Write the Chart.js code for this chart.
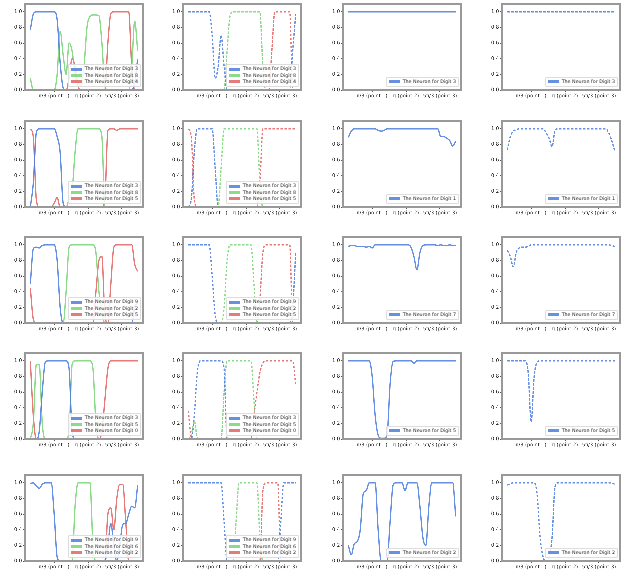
<!DOCTYPE html>
<html><head><meta charset="utf-8">
<script src="https://cdn.jsdelivr.net/npm/chart.js@4"></script>
<style>
body{margin:0;background:#fff;width:640px;height:581px;position:relative;overflow:hidden;font-family:"DejaVu Sans",sans-serif}
.p{position:absolute}
.lg{position:absolute;background:rgba(255,255,255,.85);border:1px solid #ddd;border-radius:1px;font-size:4.8px;color:#222;padding:1px 2px;line-height:6.2px;white-space:nowrap}
.sw{display:inline-block;width:11px;height:3px;margin-right:3px;vertical-align:middle}
</style></head><body>
<script>
const tickPos=[0.246,0.534,0.822];
const tickLabels=["π/3 (point 1)","π (point 2)","5π/3 (point 3)"];
const yTicks=[0,0.2,0.4,0.6,0.8,1.0];

const r1c1_b=[.77,.97,1,1,1,1,1,1,1,.9,.35,.03,0,0,0,0,0,0,0,0,0,0,0,0,0,0,0,0,0,0,0,0,0,0,0,.1,.4];
const r1c1_g=[.15,0,0,0,0,0,0,0,0,.2,.75,.45,.2,.6,.5,.2,.05,.05,.3,.8,.94,.96,.96,.95,.6,.05,0,0,0,0,0,0,0,0,.3,.88,.5];
const r1c1_r=[0,0,0,0,0,0,0,0,0,0,0,0,0,.15,.4,.3,.05,0,0,0,0,0,0,0,0,0,.6,.98,1,1,1,1,1,1,.3,0,0];
const r1c2_b=[1,1,1,1,1,1,1,1,.7,.15,.3,.7,.3,0,0,0,0,0,0,0,0,0,0,0,0,0,0,0,0,0,0,0,0,0,0,.5,.97];
const r1c2_g=[0,0,0,0,0,0,0,0,0,0,0,0,0,.5,.95,1,1,1,1,1,1,1,1,1,1,.3,0,0,0,0,0,0,0,0,0,0,0];
const r1c2_r=[0,0,0,0,0,0,0,0,0,0,0,0,0,0,0,0,0,0,0,0,0,0,0,0,0,0,0,0,.5,1,1,1,1,1,1,0,0];
const r1c3=[1,1,1,1,1,1,1,1,1,1,1,1,1,1,1,1,1,1,1,1,1,1,1,1,1,1,1,1,1,1,1,1,1,1,1,1,1];
const r1c4=[1,1,1,1,1,1,1,1,1,1,1,1,1,1,1,1,1,1,1,1,1,1,1,1,1,1,1,1,1,1,1,1,1,1,1,1,1];

const r2c1_b=[0,.3,.95,1,1,1,1,1,1,.9,.7,.05,0,0,0,0,0,0,0,0,0,0,0,0,0,0,0,0,0,0,0,0,0,0,0,0,0];
const r2c1_g=[0,0,0,0,0,0,0,0,0,0,0,0,0,.1,.2,.7,1,1,1,1,1,1,1,1,.9,0,0,0,0,0,0,0,0,0,0,0,0];
const r2c1_r=[1,.9,.1,0,0,0,0,0,.05,.12,0,0,0,0,0,0,0,0,0,0,0,0,0,0,0,.1,.98,1,1,.98,1,1,1,1,1,1,1];
const r2c2_b=[0,.1,.7,1,1,1,1,1,1,.5,0,0,0,0,0,0,0,0,0,0,0,0,0,0,0,0,0,0,0,0,0,0,0,0,0,0,0];
const r2c2_g=[0,0,0,0,0,0,0,0,0,0,0,.5,1,1,1,1,1,1,1,1,1,1,1,1,.3,0,0,0,0,0,0,0,0,0,0,0,0];
const r2c2_r=[1,.9,.1,0,0,0,0,0,0,0,0,0,0,0,0,0,0,0,0,0,0,0,0,0,.3,1,1,1,1,1,1,1,1,1,1,1,1];
const r2c3=[.89,.97,1,1,1,1,1,1,1,1,.98,.97,.98,1,1,1,1,1,1,1,1,1,1,1,1,1,1,1,1,1,1,.9,.9,.88,.85,.78,.84];
const r2c4=[.73,.9,.97,.99,1,1,1,1,1,1,1,1,1,.95,.88,.77,.98,1,1,1,1,1,1,1,1,1,1,1,1,1,1,1,1,1,.95,.85,.72];

const r3c1_b=[.5,.95,.97,.96,.99,1,1,1,1,.8,.2,0,0,0,0,0,0,0,0,0,0,0,0,0,0,0,0,0,0,0,0,0,0,0,0,.2,.27];
const r3c1_g=[0,0,0,0,0,0,0,0,0,0,0,0,.4,.97,1,1,1,1,1,1,1,1,.9,.4,.15,0,0,0,0,0,0,0,0,0,0,0,0];
const r3c1_r=[.45,.05,0,0,0,0,0,0,0,0,0,0,0,0,0,0,0,0,0,0,0,0,.4,.8,.85,.1,0,.5,.97,1,1,1,1,1,1,.75,.66];
const r3c2_b=[1,1,1,1,1,1,1,1,.6,.1,0,0,0,0,0,0,0,0,0,0,0,0,0,0,0,0,0,0,0,0,0,0,0,0,0,.2,.9];
const r3c2_g=[0,0,0,0,0,0,0,0,0,0,0,0,.2,.8,1,1,1,1,1,1,1,1,.5,0,0,0,0,0,0,0,0,0,0,0,0,0,0];
const r3c2_r=[0,0,0,0,0,0,0,0,0,0,0,0,0,0,0,0,0,0,0,0,0,0,0,0,.3,.9,1,1,1,1,1,1,1,1,1,0,0];
const r3c3=[.98,.99,.99,.98,.98,.98,.97,.98,.96,1,1,1,1,1,1,1,1,1,1,1,1,.97,.85,.68,.9,.99,1,1,1,1,.99,1,.99,.99,1,.99,.99];
const r3c4=[.93,.85,.72,.9,.96,.97,.97,.98,1,1,1,1,1,1,1,1,1,1,1,1,1,1,1,1,1,1,1,1,1,1,1,1,1,1,1,.99,.98];

const r4c1_b=[0,0,0,.1,.6,.98,1,1,1,1,1,1,1,.9,.1,0,0,0,0,0,0,0,0,0,0,0,0,0,0,0,0,0,0,0,0,0,0];
const r4c1_g=[0,.2,.95,.95,.2,0,0,0,0,0,0,0,0,.1,.95,1,1,1,1,1,1,.9,.2,0,0,0,0,0,0,0,0,0,0,0,0,0,0];
const r4c1_r=[1,.3,0,0,0,0,0,0,0,0,0,0,0,0,0,0,0,0,0,0,0,0,0,0,.1,.5,.9,1,1,1,1,1,1,1,1,1,1];
const r4c2_b=[0,0,.3,.85,1,1,1,1,1,1,1,1,.9,0,0,0,0,0,0,0,0,0,0,0,0,0,0,0,0,0,0,0,0,0,0,0,0];
const r4c2_g=[0,.05,.23,.02,0,0,0,0,0,0,0,0,.6,1,1,1,1,1,1,1,1,1,.5,0,0,0,0,0,0,0,0,0,0,0,0,0,0];
const r4c2_r=[.36,.02,0,0,0,0,0,0,0,0,0,0,0,0,0,0,0,0,0,0,0,0,.3,.6,.85,.97,1,1,1,1,1,1,1,1,1,1,.7];
const r4c3=[1,1,1,1,1,1,1,1,.8,.3,.05,.01,.01,.05,.7,.99,1,1,1,1,1,1,.97,1,1,1,1,1,1,1,1,1,1,1,1,1,1];
const r4c4=[1,1,1,1,1,1,1,.85,.22,.8,.98,1,1,1,1,1,1,1,1,1,1,1,1,1,1,1,1,1,1,1,1,1,1,1,1,1,1];

const r5c1_b=[.99,1,.96,.93,.98,1,1,1,.6,.05,0,0,0,0,0,0,0,0,0,0,0,0,0,0,0,0,.2,.48,.2,0,.2,.47,.48,.6,.7,.68,.97];
const r5c1_g=[0,0,0,0,0,0,0,0,0,0,0,0,0,0,0,.7,1,1,1,1,1,.2,0,0,0,0,0,0,0,0,0,0,0,0,0,0,0];
const r5c1_r=[0,0,0,0,0,0,0,0,0,0,0,0,0,0,0,0,0,0,0,0,0,0,0,0,0,0,.6,.68,.4,.8,.98,.98,.5,0,0,0,0];
const r5c2_b=[1,1,1,1,1,1,1,1,1,1,1,1,.5,0,0,0,0,0,0,0,0,0,0,0,0,0,0,0,0,0,0,.5,1,1,1,1,1];
const r5c2_g=[0,0,0,0,0,0,0,0,0,0,0,0,0,0,0,0,.5,1,1,1,1,1,1,1,.3,0,0,0,0,0,0,0,0,0,0,0,0];
const r5c2_r=[0,0,0,0,0,0,0,0,0,0,0,0,0,0,0,0,0,0,0,0,0,0,0,0,0,.9,1,1,1,1,1,0,0,0,0,0,0];
const r5c3=[.2,.08,.22,.25,.4,.86,.9,1,1,1,.4,0,0,0,.5,.97,1,1,1,.9,1,1,1,1,.7,.3,.2,.7,1,1,1,1,1,1,1,1,.57];
const r5c4=[.97,.99,1,1,1,1,1,1,1,1,.85,.3,.05,0,.05,.3,.95,1,1,1,1,1,1,1,1,1,1,1,1,1,1,1,1,1,1,1,.98];

const B='rgba(75,125,220,0.85)',G='rgba(110,210,110,0.8)',R='rgba(222,90,90,0.8)';
const colL=[25,183,343,502], rowT=[0,117,233,349,471], PW=118, PH=89;
const panels=[
 [0,0,false,[[r1c1_b,B,'The Neuron for Digit 3'],[r1c1_g,G,'The Neuron for Digit 8'],[r1c1_r,R,'The Neuron for Digit 4']]],
 [0,1,true,[[r1c2_b,B,'The Neuron for Digit 3'],[r1c2_g,G,'The Neuron for Digit 8'],[r1c2_r,R,'The Neuron for Digit 4']]],
 [0,2,false,[[r1c3,B,'The Neuron for Digit 3']]],
 [0,3,true,[[r1c4,B,'The Neuron for Digit 3']]],
 [1,0,false,[[r2c1_b,B,'The Neuron for Digit 3'],[r2c1_g,G,'The Neuron for Digit 8'],[r2c1_r,R,'The Neuron for Digit 5']]],
 [1,1,true,[[r2c2_b,B,'The Neuron for Digit 3'],[r2c2_g,G,'The Neuron for Digit 8'],[r2c2_r,R,'The Neuron for Digit 5']]],
 [1,2,false,[[r2c3,B,'The Neuron for Digit 1']]],
 [1,3,true,[[r2c4,B,'The Neuron for Digit 1']]],
 [2,0,false,[[r3c1_b,B,'The Neuron for Digit 9'],[r3c1_g,G,'The Neuron for Digit 2'],[r3c1_r,R,'The Neuron for Digit 5']]],
 [2,1,true,[[r3c2_b,B,'The Neuron for Digit 9'],[r3c2_g,G,'The Neuron for Digit 2'],[r3c2_r,R,'The Neuron for Digit 5']]],
 [2,2,false,[[r3c3,B,'The Neuron for Digit 7']]],
 [2,3,true,[[r3c4,B,'The Neuron for Digit 7']]],
 [3,0,false,[[r4c1_b,B,'The Neuron for Digit 3'],[r4c1_g,G,'The Neuron for Digit 5'],[r4c1_r,R,'The Neuron for Digit 0']]],
 [3,1,true,[[r4c2_b,B,'The Neuron for Digit 3'],[r4c2_g,G,'The Neuron for Digit 5'],[r4c2_r,R,'The Neuron for Digit 0']]],
 [3,2,false,[[r4c3,B,'The Neuron for Digit 5']]],
 [3,3,true,[[r4c4,B,'The Neuron for Digit 5']]],
 [4,0,false,[[r5c1_b,B,'The Neuron for Digit 9'],[r5c1_g,G,'The Neuron for Digit 6'],[r5c1_r,R,'The Neuron for Digit 2']]],
 [4,1,true,[[r5c2_b,B,'The Neuron for Digit 9'],[r5c2_g,G,'The Neuron for Digit 6'],[r5c2_r,R,'The Neuron for Digit 2']]],
 [4,2,false,[[r5c3,B,'The Neuron for Digit 2']]],
 [4,3,true,[[r5c4,B,'The Neuron for Digit 2']]]
];
const frame={id:'frame',afterDraw(c){const a=c.chartArea,x=c.ctx;x.save();x.strokeStyle='#999';x.lineWidth=1.5;x.strokeRect(a.left,a.top,a.right-a.left,a.bottom-a.top);x.restore();}};
const YW=20, XH=14;
panels.forEach(([r,cI,dashed,series])=>{
  const L=colL[cI],T=rowT[r];
  const d=document.createElement('div');d.className='p';
  d.style.cssText=`left:${L-YW}px;top:${T}px;width:${PW+YW+1}px;height:${PH+XH+1}px`;
  const cv=document.createElement('canvas');d.appendChild(cv);document.body.appendChild(d);
  new Chart(cv,{type:'line',
    data:{datasets:series.map(([v,col,lab])=>({label:lab,data:v.map((y,i)=>({x:0.045+i*0.91/36,y})),borderColor:col,borderWidth:1.3,borderDash:dashed?[2.5,1.5]:[],pointRadius:0,cubicInterpolationMode:'monotone',fill:false}))},
    plugins:[frame],
    options:{responsive:true,maintainAspectRatio:false,animation:false,devicePixelRatio:3,
      layout:{padding:{top:0,right:1,left:0,bottom:0}},
      plugins:{legend:{display:false},tooltip:{enabled:false}},
      scales:{
        x:{type:'linear',min:0,max:1,afterBuildTicks:s=>{s.ticks=tickPos.map(v=>({value:v}))},afterFit:s=>{s.height=XH},
           ticks:{font:{size:5,family:'DejaVu Sans'},color:'#333',maxRotation:0,autoSkip:false,padding:1,callback:(v,i)=>tickLabels[i]},
           grid:{display:true,drawOnChartArea:false,tickLength:2,color:'#555'},border:{color:'#999',width:1.5}},
        y:{min:0,max:1.1,afterBuildTicks:s=>{s.ticks=yTicks.map(v=>({value:v}))},afterFit:s=>{s.width=YW},
           ticks:{font:{size:5,family:'DejaVu Sans'},color:'#333',padding:1,callback:v=>v.toFixed(1)},
           grid:{display:true,drawOnChartArea:false,tickLength:2,color:'#555'},border:{color:'#999',width:1.5}}
      }}});
  const lg=document.createElement('div');lg.className='lg';
  lg.innerHTML=series.map(([v,col,lab])=>`<div><span class="sw" style="background:${col}"></span>${lab}</div>`).join('');
  lg.style.right=(640-(L+PW)+2)+'px';lg.style.bottom=(581-(T+PH)+2)+'px';
  document.body.appendChild(lg);
});
</script></body></html>
